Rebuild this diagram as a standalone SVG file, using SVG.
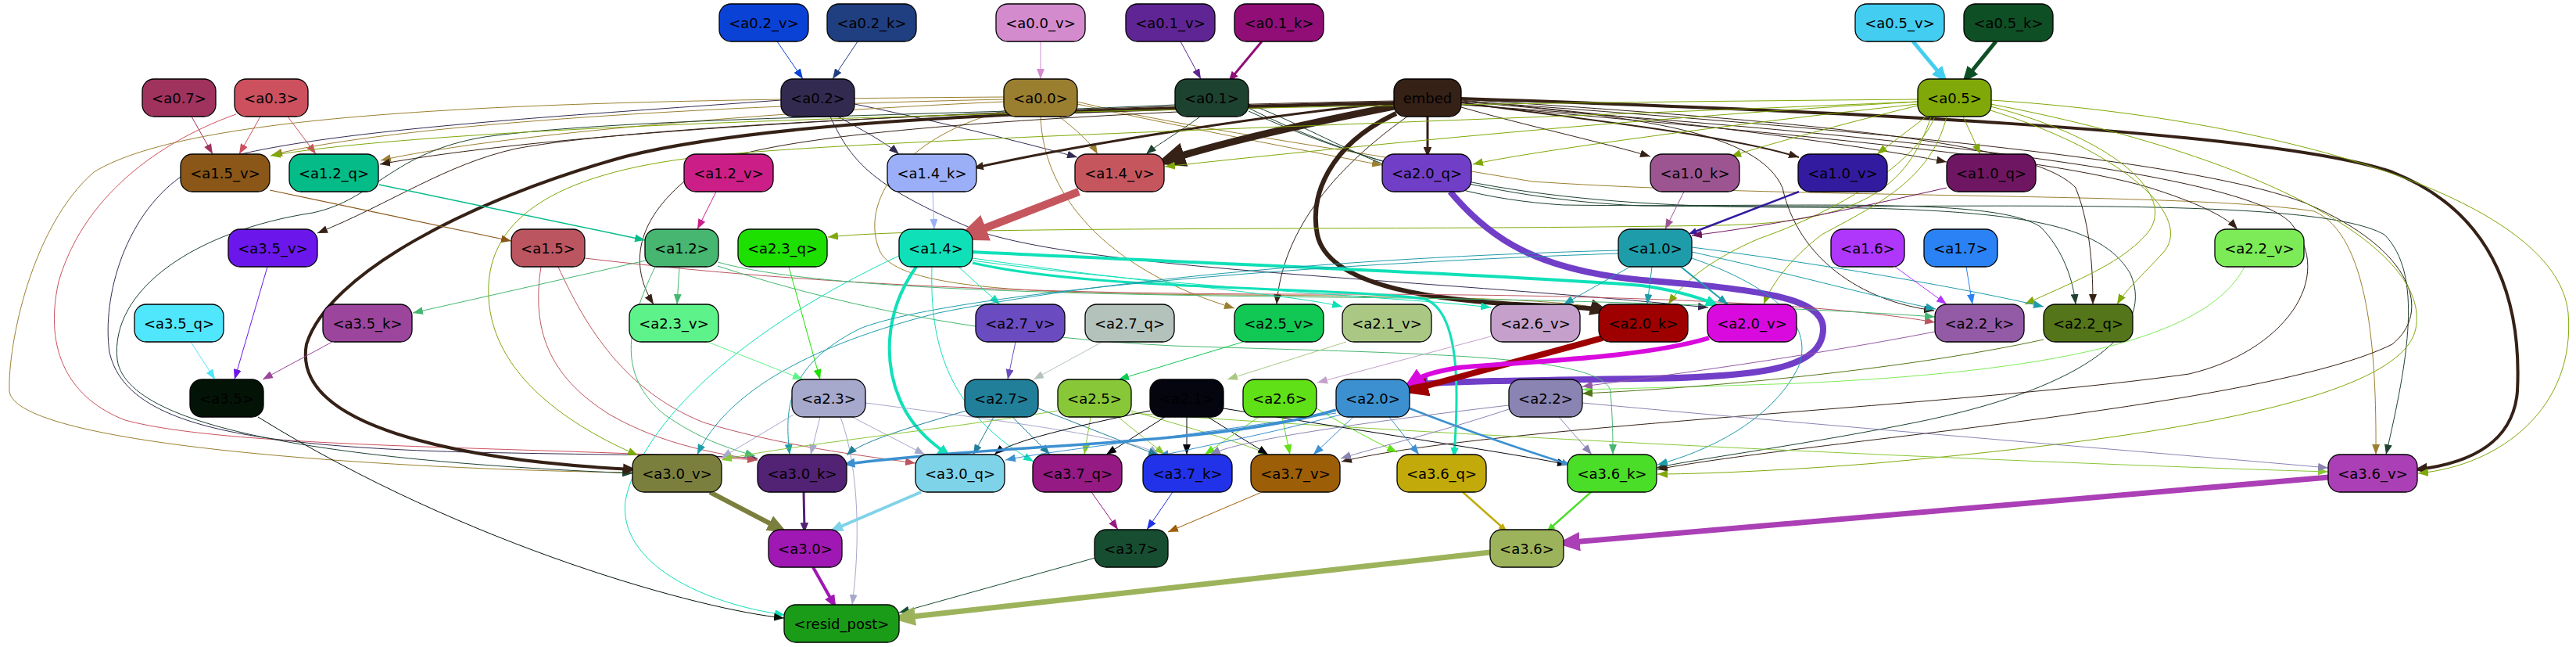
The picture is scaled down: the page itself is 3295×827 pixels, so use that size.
<svg xmlns="http://www.w3.org/2000/svg" width="3295" height="827" viewBox="0 0 3295 827">
<style>
.n rect{stroke:#000;stroke-width:1.3}
.n text{font-family:"DejaVu Sans",sans-serif;font-size:18px;text-anchor:middle;fill:#000}
#edges path{fill:none}
</style>
<defs>
<marker id="t_a0_2v" markerWidth="13" markerHeight="10" refX="13" refY="5" orient="auto" markerUnits="userSpaceOnUse"><path d="M0,0L13,5L0,10z" fill="#0b42d6"/></marker>
<marker id="t_a0_2k" markerWidth="13" markerHeight="10" refX="13" refY="5" orient="auto" markerUnits="userSpaceOnUse"><path d="M0,0L13,5L0,10z" fill="#203f80"/></marker>
<marker id="t_a0_0v" markerWidth="13" markerHeight="10" refX="13" refY="5" orient="auto" markerUnits="userSpaceOnUse"><path d="M0,0L13,5L0,10z" fill="#d48bce"/></marker>
<marker id="t_a0_1v" markerWidth="13" markerHeight="10" refX="13" refY="5" orient="auto" markerUnits="userSpaceOnUse"><path d="M0,0L13,5L0,10z" fill="#5f2594"/></marker>
<marker id="t_a0_7" markerWidth="13" markerHeight="10" refX="13" refY="5" orient="auto" markerUnits="userSpaceOnUse"><path d="M0,0L13,5L0,10z" fill="#a0325e"/></marker>
<marker id="t_a0_3" markerWidth="13" markerHeight="10" refX="13" refY="5" orient="auto" markerUnits="userSpaceOnUse"><path d="M0,0L13,5L0,10z" fill="#cc505e"/></marker>
<marker id="t_a0_2" markerWidth="13" markerHeight="10" refX="13" refY="5" orient="auto" markerUnits="userSpaceOnUse"><path d="M0,0L13,5L0,10z" fill="#332a50"/></marker>
<marker id="t_a0_0" markerWidth="13" markerHeight="10" refX="13" refY="5" orient="auto" markerUnits="userSpaceOnUse"><path d="M0,0L13,5L0,10z" fill="#9b7f30"/></marker>
<marker id="t_a0_1" markerWidth="13" markerHeight="10" refX="13" refY="5" orient="auto" markerUnits="userSpaceOnUse"><path d="M0,0L13,5L0,10z" fill="#1e4230"/></marker>
<marker id="t_embed" markerWidth="13" markerHeight="10" refX="13" refY="5" orient="auto" markerUnits="userSpaceOnUse"><path d="M0,0L13,5L0,10z" fill="#352116"/></marker>
<marker id="t_a0_5" markerWidth="13" markerHeight="10" refX="13" refY="5" orient="auto" markerUnits="userSpaceOnUse"><path d="M0,0L13,5L0,10z" fill="#7fa808"/></marker>
<marker id="t_a1_4k" markerWidth="13" markerHeight="10" refX="13" refY="5" orient="auto" markerUnits="userSpaceOnUse"><path d="M0,0L13,5L0,10z" fill="#9aaff8"/></marker>
<marker id="t_a1_2v" markerWidth="13" markerHeight="10" refX="13" refY="5" orient="auto" markerUnits="userSpaceOnUse"><path d="M0,0L13,5L0,10z" fill="#cb1f87"/></marker>
<marker id="t_a1_2q" markerWidth="13" markerHeight="10" refX="13" refY="5" orient="auto" markerUnits="userSpaceOnUse"><path d="M0,0L13,5L0,10z" fill="#05bb88"/></marker>
<marker id="t_a1_5v" markerWidth="13" markerHeight="10" refX="13" refY="5" orient="auto" markerUnits="userSpaceOnUse"><path d="M0,0L13,5L0,10z" fill="#8a5718"/></marker>
<marker id="t_a1_0k" markerWidth="13" markerHeight="10" refX="13" refY="5" orient="auto" markerUnits="userSpaceOnUse"><path d="M0,0L13,5L0,10z" fill="#9c5590"/></marker>
<marker id="t_a1_0q" markerWidth="13" markerHeight="10" refX="13" refY="5" orient="auto" markerUnits="userSpaceOnUse"><path d="M0,0L13,5L0,10z" fill="#6f1662"/></marker>
<marker id="t_a3_5v" markerWidth="13" markerHeight="10" refX="13" refY="5" orient="auto" markerUnits="userSpaceOnUse"><path d="M0,0L13,5L0,10z" fill="#6b17ec"/></marker>
<marker id="t_a1_5" markerWidth="13" markerHeight="10" refX="13" refY="5" orient="auto" markerUnits="userSpaceOnUse"><path d="M0,0L13,5L0,10z" fill="#bb5560"/></marker>
<marker id="t_a1_2" markerWidth="13" markerHeight="10" refX="13" refY="5" orient="auto" markerUnits="userSpaceOnUse"><path d="M0,0L13,5L0,10z" fill="#46b670"/></marker>
<marker id="t_a2_3q" markerWidth="13" markerHeight="10" refX="13" refY="5" orient="auto" markerUnits="userSpaceOnUse"><path d="M0,0L13,5L0,10z" fill="#1de000"/></marker>
<marker id="t_a1_4" markerWidth="13" markerHeight="10" refX="13" refY="5" orient="auto" markerUnits="userSpaceOnUse"><path d="M0,0L13,5L0,10z" fill="#10e0b8"/></marker>
<marker id="t_a1_0" markerWidth="13" markerHeight="10" refX="13" refY="5" orient="auto" markerUnits="userSpaceOnUse"><path d="M0,0L13,5L0,10z" fill="#1e9caa"/></marker>
<marker id="t_a1_6" markerWidth="13" markerHeight="10" refX="13" refY="5" orient="auto" markerUnits="userSpaceOnUse"><path d="M0,0L13,5L0,10z" fill="#ae37fb"/></marker>
<marker id="t_a1_7" markerWidth="13" markerHeight="10" refX="13" refY="5" orient="auto" markerUnits="userSpaceOnUse"><path d="M0,0L13,5L0,10z" fill="#2a82f4"/></marker>
<marker id="t_a2_2v" markerWidth="13" markerHeight="10" refX="13" refY="5" orient="auto" markerUnits="userSpaceOnUse"><path d="M0,0L13,5L0,10z" fill="#7deb57"/></marker>
<marker id="t_a3_5q" markerWidth="13" markerHeight="10" refX="13" refY="5" orient="auto" markerUnits="userSpaceOnUse"><path d="M0,0L13,5L0,10z" fill="#50e6fc"/></marker>
<marker id="t_a3_5k" markerWidth="13" markerHeight="10" refX="13" refY="5" orient="auto" markerUnits="userSpaceOnUse"><path d="M0,0L13,5L0,10z" fill="#9c459c"/></marker>
<marker id="t_a2_3v" markerWidth="13" markerHeight="10" refX="13" refY="5" orient="auto" markerUnits="userSpaceOnUse"><path d="M0,0L13,5L0,10z" fill="#5ef38a"/></marker>
<marker id="t_a2_7v" markerWidth="13" markerHeight="10" refX="13" refY="5" orient="auto" markerUnits="userSpaceOnUse"><path d="M0,0L13,5L0,10z" fill="#6a4bc0"/></marker>
<marker id="t_a2_7q" markerWidth="13" markerHeight="10" refX="13" refY="5" orient="auto" markerUnits="userSpaceOnUse"><path d="M0,0L13,5L0,10z" fill="#b4c2bc"/></marker>
<marker id="t_a2_5v" markerWidth="13" markerHeight="10" refX="13" refY="5" orient="auto" markerUnits="userSpaceOnUse"><path d="M0,0L13,5L0,10z" fill="#10c853"/></marker>
<marker id="t_a2_1v" markerWidth="13" markerHeight="10" refX="13" refY="5" orient="auto" markerUnits="userSpaceOnUse"><path d="M0,0L13,5L0,10z" fill="#aac883"/></marker>
<marker id="t_a2_6v" markerWidth="13" markerHeight="10" refX="13" refY="5" orient="auto" markerUnits="userSpaceOnUse"><path d="M0,0L13,5L0,10z" fill="#c4a0cb"/></marker>
<marker id="t_a2_2k" markerWidth="13" markerHeight="10" refX="13" refY="5" orient="auto" markerUnits="userSpaceOnUse"><path d="M0,0L13,5L0,10z" fill="#935aa5"/></marker>
<marker id="t_a2_2q" markerWidth="13" markerHeight="10" refX="13" refY="5" orient="auto" markerUnits="userSpaceOnUse"><path d="M0,0L13,5L0,10z" fill="#547519"/></marker>
<marker id="t_a3_5" markerWidth="13" markerHeight="10" refX="13" refY="5" orient="auto" markerUnits="userSpaceOnUse"><path d="M0,0L13,5L0,10z" fill="#031406"/></marker>
<marker id="t_a2_3" markerWidth="13" markerHeight="10" refX="13" refY="5" orient="auto" markerUnits="userSpaceOnUse"><path d="M0,0L13,5L0,10z" fill="#a6a8cc"/></marker>
<marker id="t_a2_7" markerWidth="13" markerHeight="10" refX="13" refY="5" orient="auto" markerUnits="userSpaceOnUse"><path d="M0,0L13,5L0,10z" fill="#217f9a"/></marker>
<marker id="t_a2_5" markerWidth="13" markerHeight="10" refX="13" refY="5" orient="auto" markerUnits="userSpaceOnUse"><path d="M0,0L13,5L0,10z" fill="#88c838"/></marker>
<marker id="t_a2_1" markerWidth="13" markerHeight="10" refX="13" refY="5" orient="auto" markerUnits="userSpaceOnUse"><path d="M0,0L13,5L0,10z" fill="#050510"/></marker>
<marker id="t_a2_6" markerWidth="13" markerHeight="10" refX="13" refY="5" orient="auto" markerUnits="userSpaceOnUse"><path d="M0,0L13,5L0,10z" fill="#60e016"/></marker>
<marker id="t_a2_0" markerWidth="13" markerHeight="10" refX="13" refY="5" orient="auto" markerUnits="userSpaceOnUse"><path d="M0,0L13,5L0,10z" fill="#3c90d0"/></marker>
<marker id="t_a2_2" markerWidth="13" markerHeight="10" refX="13" refY="5" orient="auto" markerUnits="userSpaceOnUse"><path d="M0,0L13,5L0,10z" fill="#8a84b2"/></marker>
<marker id="t_a3_7q" markerWidth="13" markerHeight="10" refX="13" refY="5" orient="auto" markerUnits="userSpaceOnUse"><path d="M0,0L13,5L0,10z" fill="#951a84"/></marker>
<marker id="t_a3_7k" markerWidth="13" markerHeight="10" refX="13" refY="5" orient="auto" markerUnits="userSpaceOnUse"><path d="M0,0L13,5L0,10z" fill="#2232e8"/></marker>
<marker id="t_a3_7v" markerWidth="13" markerHeight="10" refX="13" refY="5" orient="auto" markerUnits="userSpaceOnUse"><path d="M0,0L13,5L0,10z" fill="#9d5e08"/></marker>
<marker id="t_a3_7" markerWidth="13" markerHeight="10" refX="13" refY="5" orient="auto" markerUnits="userSpaceOnUse"><path d="M0,0L13,5L0,10z" fill="#174e32"/></marker>
<marker id="k_a0_1k" viewBox="0 0 12 10" markerWidth="4.2" markerHeight="3.5" refX="8.5" refY="5" orient="auto"><path d="M0,0L12,5L0,10z" fill="#900e76"/></marker>
<marker id="k_a0_5v" viewBox="0 0 12 10" markerWidth="4.2" markerHeight="3.5" refX="8.5" refY="5" orient="auto"><path d="M0,0L12,5L0,10z" fill="#43cdf0"/></marker>
<marker id="k_a0_5k" viewBox="0 0 12 10" markerWidth="4.2" markerHeight="3.5" refX="8.5" refY="5" orient="auto"><path d="M0,0L12,5L0,10z" fill="#0f4f25"/></marker>
<marker id="k_embed" viewBox="0 0 12 10" markerWidth="4.2" markerHeight="3.5" refX="8.5" refY="5" orient="auto"><path d="M0,0L12,5L0,10z" fill="#352116"/></marker>
<marker id="k_a1_4v" viewBox="0 0 12 10" markerWidth="4.2" markerHeight="3.5" refX="8.5" refY="5" orient="auto"><path d="M0,0L12,5L0,10z" fill="#c6565e"/></marker>
<marker id="k_a1_0v" viewBox="0 0 12 10" markerWidth="4.2" markerHeight="3.5" refX="8.5" refY="5" orient="auto"><path d="M0,0L12,5L0,10z" fill="#331ba0"/></marker>
<marker id="k_a2_0q" viewBox="0 0 12 10" markerWidth="4.2" markerHeight="3.5" refX="8.5" refY="5" orient="auto"><path d="M0,0L12,5L0,10z" fill="#713ec8"/></marker>
<marker id="k_a1_4" viewBox="0 0 12 10" markerWidth="4.2" markerHeight="3.5" refX="8.5" refY="5" orient="auto"><path d="M0,0L12,5L0,10z" fill="#10e0b8"/></marker>
<marker id="k_a2_0k" viewBox="0 0 12 10" markerWidth="4.2" markerHeight="3.5" refX="8.5" refY="5" orient="auto"><path d="M0,0L12,5L0,10z" fill="#9e0000"/></marker>
<marker id="k_a2_0v" viewBox="0 0 12 10" markerWidth="4.2" markerHeight="3.5" refX="8.5" refY="5" orient="auto"><path d="M0,0L12,5L0,10z" fill="#d90ade"/></marker>
<marker id="k_a2_0" viewBox="0 0 12 10" markerWidth="4.2" markerHeight="3.5" refX="8.5" refY="5" orient="auto"><path d="M0,0L12,5L0,10z" fill="#3c90d0"/></marker>
<marker id="k_a3_0v" viewBox="0 0 12 10" markerWidth="4.2" markerHeight="3.5" refX="8.5" refY="5" orient="auto"><path d="M0,0L12,5L0,10z" fill="#7b7f3d"/></marker>
<marker id="k_a3_0k" viewBox="0 0 12 10" markerWidth="4.2" markerHeight="3.5" refX="8.5" refY="5" orient="auto"><path d="M0,0L12,5L0,10z" fill="#522275"/></marker>
<marker id="k_a3_0q" viewBox="0 0 12 10" markerWidth="4.2" markerHeight="3.5" refX="8.5" refY="5" orient="auto"><path d="M0,0L12,5L0,10z" fill="#7fd3e8"/></marker>
<marker id="k_a3_6q" viewBox="0 0 12 10" markerWidth="4.2" markerHeight="3.5" refX="8.5" refY="5" orient="auto"><path d="M0,0L12,5L0,10z" fill="#c2aa0a"/></marker>
<marker id="k_a3_6k" viewBox="0 0 12 10" markerWidth="4.2" markerHeight="3.5" refX="8.5" refY="5" orient="auto"><path d="M0,0L12,5L0,10z" fill="#4ade28"/></marker>
<marker id="k_a3_6v" viewBox="0 0 12 10" markerWidth="4.2" markerHeight="3.5" refX="8.5" refY="5" orient="auto"><path d="M0,0L12,5L0,10z" fill="#ab3fb5"/></marker>
<marker id="k_a3_0" viewBox="0 0 12 10" markerWidth="4.2" markerHeight="3.5" refX="8.5" refY="5" orient="auto"><path d="M0,0L12,5L0,10z" fill="#a018b3"/></marker>
<marker id="k_a3_6" viewBox="0 0 12 10" markerWidth="4.2" markerHeight="3.5" refX="8.5" refY="5" orient="auto"><path d="M0,0L12,5L0,10z" fill="#9db35b"/></marker>
</defs>
<rect width="3295" height="827" fill="#fff"/>
<g id="edges">
<path d="M994,53 L1027,101" stroke="#0b42d6" marker-end="url(#t_a0_2v)"/>
<path d="M1097,53 L1065,101" stroke="#203f80" marker-end="url(#t_a0_2k)"/>
<path d="M1331,53 L1331,101" stroke="#d48bce" marker-end="url(#t_a0_0v)"/>
<path d="M1510,53 L1536,101" stroke="#5f2594" marker-end="url(#t_a0_1v)"/>
<path d="M1614,53 L1574,101" stroke="#900e76" stroke-width="3" marker-end="url(#k_a0_1k)"/>
<path d="M2447,53 L2487,101" stroke="#43cdf0" stroke-width="5" marker-end="url(#k_a0_5v)"/>
<path d="M2553,53 L2514,101" stroke="#0f4f25" stroke-width="5" marker-end="url(#k_a0_5k)"/>
<path d="M245,149 L272,197" stroke="#a0325e" marker-end="url(#t_a0_7)"/>
<path d="M333,149 L306,197" stroke="#cc505e" marker-end="url(#t_a0_3)"/>
<path d="M368,149 L404,197" stroke="#cc505e" marker-end="url(#t_a0_3)"/>
<path d="M302,146 C220,175 110,240 75,360 C55,450 90,510 160,537 C300,575 700,570 969,588" stroke="#cc505e" marker-end="url(#t_a0_3)"/>
<path d="M1072,149 C1100,165 1130,180 1150,197" stroke="#332a50" marker-end="url(#t_a0_2)"/>
<path d="M1093,133 C1200,155 1320,185 1378,201" stroke="#332a50" marker-end="url(#t_a0_2)"/>
<path d="M999,128 C700,150 330,170 240,220 C160,270 130,380 140,450 C160,540 300,570 600,578 C800,582 930,582 969,586" stroke="#332a50" marker-end="url(#t_a0_2)"/>
<path d="M1062,149 C1090,210 1120,240 1250,295 C1400,345 1800,355 2185,393" stroke="#332a50" marker-end="url(#t_a0_2)"/>
<path d="M1284,127 C900,135 500,160 348,198" stroke="#9b7f30" marker-end="url(#t_a0_0)"/>
<path d="M1284,130 C950,145 620,175 487,205" stroke="#9b7f30" marker-end="url(#t_a0_0)"/>
<path d="M1355,149 C1375,165 1395,182 1404,197" stroke="#9b7f30" marker-end="url(#t_a0_0)"/>
<path d="M1378,133 C1500,160 1680,195 1768,211" stroke="#9b7f30" marker-end="url(#t_a0_0)"/>
<path d="M1331,149 C1335,260 1430,350 1579,394" stroke="#9b7f30" marker-end="url(#t_a0_0)"/>
<path d="M1290,140 C1150,175 1100,260 1125,320 C1150,380 1400,375 1700,378 C1900,380 2010,385 2050,395" stroke="#9b7f30" marker-end="url(#t_a0_0)"/>
<path d="M1284,124 C700,128 250,140 120,220 C40,290 10,440 12,500 C20,570 500,600 809,604" stroke="#9b7f30" marker-end="url(#t_a0_0)"/>
<path d="M1378,130 C1500,160 1650,180 1960,232 C2300,255 2800,245 2960,270 C3030,300 3040,450 3039,581" stroke="#9b7f30" marker-end="url(#t_a0_0)"/>
<path d="M1535,149 C1510,168 1480,185 1466,197" stroke="#1e4230" marker-end="url(#t_a0_1)"/>
<path d="M1503,134 C1200,148 800,150 620,175 C500,195 480,255 400,272 C250,295 140,370 150,460 C165,560 500,592 809,605" stroke="#1e4230" marker-end="url(#t_a0_1)"/>
<path d="M1597,133 C1700,170 1800,250 2000,262 C2300,266 2550,250 2610,290 C2640,320 2652,360 2655,389" stroke="#1e4230" marker-end="url(#t_a0_1)"/>
<path d="M1597,138 C1720,200 1900,255 2100,263 C2500,268 2960,248 3050,300 C3100,350 3080,460 3052,581" stroke="#1e4230" marker-end="url(#t_a0_1)"/>
<path d="M1597,142 C1800,235 2000,265 2300,265 C2600,266 2690,290 2725,350 C2760,430 2650,500 2450,540 C2300,570 2160,588 2119,598" stroke="#1e4230" marker-end="url(#t_a0_1)"/>
<path d="M1783,131 C1600,150 1380,185 1249,214" stroke="#352116" stroke-width="3" marker-end="url(#k_embed)"/>
<path d="M1783,136 C1660,160 1560,183 1489,206" stroke="#352116" stroke-width="9" marker-end="url(#k_embed)"/>
<path d="M1826,149 L1826,197" stroke="#352116" stroke-width="3" marker-end="url(#k_embed)"/>
<path d="M1869,137 C1950,160 2050,182 2111,200" stroke="#352116" marker-end="url(#t_embed)"/>
<path d="M1869,131 C2000,150 2200,170 2301,201" stroke="#352116" stroke-width="2" marker-end="url(#t_embed)"/>
<path d="M1869,128 C2100,150 2350,180 2490,207" stroke="#352116" marker-end="url(#t_embed)"/>
<path d="M1786,145 C1700,185 1675,250 1685,300 C1700,370 1850,385 1960,390 C2010,392 2040,394 2052,397" stroke="#352116" stroke-width="6" marker-end="url(#k_embed)"/>
<path d="M1869,133 C2200,165 2600,195 2750,240 C2820,262 2850,280 2862,293" stroke="#352116" marker-end="url(#t_embed)"/>
<path d="M1869,130 C2100,148 2250,170 2280,240 C2300,330 2380,385 2474,397" stroke="#352116" marker-end="url(#t_embed)"/>
<path d="M1869,127 C2300,155 2600,180 2655,240 C2675,290 2677,350 2677,389" stroke="#352116" marker-end="url(#t_embed)"/>
<path d="M1869,126 C2300,140 2900,165 3060,220 C3200,275 3225,400 3220,500 C3215,565 3160,592 3093,600" stroke="#352116" stroke-width="4" marker-end="url(#k_embed)"/>
<path d="M1783,132 C1400,140 1000,150 800,200 C600,255 420,350 392,440 C370,560 650,592 809,600" stroke="#352116" stroke-width="4" marker-end="url(#k_embed)"/>
<path d="M1783,129 C1200,140 700,170 486,210" stroke="#352116" marker-end="url(#t_embed)"/>
<path d="M1783,130 C1300,140 820,160 660,190 C570,210 500,260 406,298" stroke="#352116" marker-end="url(#t_embed)"/>
<path d="M1783,131 C1300,150 960,170 890,220 C810,280 805,340 836,389" stroke="#352116" marker-end="url(#t_embed)"/>
<path d="M1800,149 C1700,220 1640,300 1633,389" stroke="#352116" marker-end="url(#t_embed)"/>
<path d="M1869,129 C2300,160 2800,200 2950,260 C3090,320 3110,400 3060,440 C2900,520 2300,565 2120,600" stroke="#352116" marker-end="url(#t_embed)"/>
<path d="M1869,134 C2400,170 2870,220 2930,285 C2990,355 2920,450 2800,478 C2500,520 1900,545 1716,590" stroke="#352116" marker-end="url(#t_embed)"/>
<path d="M2453,135 C2350,160 2260,185 2214,200" stroke="#7fa808" marker-end="url(#t_a0_5)"/>
<path d="M2464,149 L2401,197" stroke="#7fa808" marker-end="url(#t_a0_5)"/>
<path d="M2511,149 L2533,197" stroke="#7fa808" marker-end="url(#t_a0_5)"/>
<path d="M2453,130 C2100,150 1700,190 1490,213" stroke="#7fa808" marker-end="url(#t_a0_5)"/>
<path d="M2453,133 C2200,160 1950,195 1884,210" stroke="#7fa808" marker-end="url(#t_a0_5)"/>
<path d="M2470,149 C2440,240 2380,285 2200,288 C1800,295 1200,288 1059,303" stroke="#7fa808" marker-end="url(#t_a0_5)"/>
<path d="M2475,149 C2450,210 2350,270 2250,305 C2180,335 2150,365 2134,389" stroke="#7fa808" marker-end="url(#t_a0_5)"/>
<path d="M2490,149 C2470,230 2400,262 2330,300 C2285,335 2264,368 2256,389" stroke="#7fa808" marker-end="url(#t_a0_5)"/>
<path d="M2546,136 C2700,175 2790,250 2745,300 C2710,340 2640,365 2590,389" stroke="#7fa808" marker-end="url(#t_a0_5)"/>
<path d="M2546,141 C2720,195 2810,280 2765,325 C2740,352 2718,372 2708,389" stroke="#7fa808" marker-end="url(#t_a0_5)"/>
<path d="M2546,128 C2900,150 3270,250 3285,400 C3295,520 3200,595 3093,605" stroke="#7fa808" marker-end="url(#t_a0_5)"/>
<path d="M2546,133 C2900,200 3110,320 3090,420 C3070,520 2700,565 2400,592 C2250,604 2150,606 2120,606" stroke="#7fa808" marker-end="url(#t_a0_5)"/>
<path d="M2453,130 C1800,158 1100,178 900,200 C700,222 620,285 625,380 C630,480 730,545 816,582" stroke="#7fa808" marker-end="url(#t_a0_5)"/>
<path d="M2453,127 C1500,135 600,155 346,199" stroke="#7fa808" marker-end="url(#t_a0_5)"/>
<path d="M1380,245 L1233,302" stroke="#c6565e" stroke-width="10" marker-end="url(#k_a1_4v)"/>
<path d="M1193,245 L1195,293" stroke="#9aaff8" marker-end="url(#t_a1_4k)"/>
<path d="M916,245 L892,293" stroke="#cb1f87" marker-end="url(#t_a1_2v)"/>
<path d="M485,236 L825,307" stroke="#05bb88" stroke-width="1.5" marker-end="url(#t_a1_2q)"/>
<path d="M345,243 L654,308" stroke="#8a5718" stroke-width="1.2" marker-end="url(#t_a1_5v)"/>
<path d="M2154,245 L2130,293" stroke="#9c5590" marker-end="url(#t_a1_0k)"/>
<path d="M2301,245 L2163,298" stroke="#331ba0" stroke-width="2.5" marker-end="url(#k_a1_0v)"/>
<path d="M2490,240 C2380,265 2260,290 2164,301" stroke="#6f1662" marker-end="url(#t_a1_0q)"/>
<path d="M1855,245 C1905,305 1965,345 2100,358 C2250,370 2332,380 2332,420 C2332,472 2250,482 2100,484 C1950,486 1860,487 1803,492" stroke="#713ec8" stroke-width="8" marker-end="url(#k_a2_0q)"/>
<path d="M342,341 L300,485" stroke="#6b17ec" marker-end="url(#t_a3_5v)"/>
<path d="M714,341 C750,420 800,500 900,540 C1000,570 1100,582 1171,592" stroke="#bb5560" marker-end="url(#t_a1_5)"/>
<path d="M692,341 C680,420 700,480 780,530 C850,570 920,580 969,588" stroke="#bb5560" marker-end="url(#t_a1_5)"/>
<path d="M748,330 C1000,360 1300,377 1700,376 C2100,376 2350,390 2475,412" stroke="#bb5560" marker-end="url(#t_a1_5)"/>
<path d="M869,341 L866,389" stroke="#46b670" marker-end="url(#t_a1_2)"/>
<path d="M826,333 L528,400" stroke="#46b670" marker-end="url(#t_a1_2)"/>
<path d="M918,335 C1050,372 1400,377 1800,381 C2100,385 2350,396 2475,405" stroke="#46b670" marker-end="url(#t_a1_2)"/>
<path d="M838,341 C800,420 790,480 850,530 C900,565 940,575 966,583" stroke="#46b670" marker-end="url(#t_a1_2)"/>
<path d="M918,340 C1100,400 1300,432 1500,442 C1800,452 2050,452 2060,500 C2063,540 2063,560 2063,581" stroke="#46b670" marker-end="url(#t_a1_2)"/>
<path d="M1009,341 L1049,485" stroke="#1de000" marker-end="url(#t_a2_3q)"/>
<path d="M1226,341 L1279,389" stroke="#10e0b8" marker-end="url(#t_a1_4)"/>
<path d="M1172,341 C1130,400 1128,470 1158,525 C1175,555 1200,572 1212,581" stroke="#10e0b8" stroke-width="4" marker-end="url(#k_a1_4)"/>
<path d="M1244,322 C1500,335 1900,350 2100,365 C2150,372 2180,383 2194,389" stroke="#10e0b8" stroke-width="4" marker-end="url(#k_a1_4)"/>
<path d="M1244,336 C1400,372 1700,366 1822,382 C1868,398 1866,500 1860,581" stroke="#10e0b8" stroke-width="3" marker-end="url(#k_a1_4)"/>
<path d="M1244,330 C1450,360 1650,376 1717,392" stroke="#10e0b8" marker-end="url(#t_a1_4)"/>
<path d="M1244,333 C1500,368 1800,380 1907,393" stroke="#10e0b8" marker-end="url(#t_a1_4)"/>
<path d="M1152,326 C950,420 820,540 800,640 C790,720 900,772 1004,786" stroke="#10e0b8" marker-end="url(#t_a1_4)"/>
<path d="M1192,341 C1190,420 1200,520 1322,590" stroke="#10e0b8" marker-end="url(#t_a1_4)"/>
<path d="M2085,341 L2000,389" stroke="#1e9caa" marker-end="url(#t_a1_0)"/>
<path d="M2113,341 L2107,389" stroke="#1e9caa" marker-end="url(#t_a1_0)"/>
<path d="M2150,341 L2210,389" stroke="#1e9caa" stroke-width="2" marker-end="url(#t_a1_0)"/>
<path d="M2164,322 C2300,352 2400,380 2476,395" stroke="#1e9caa" marker-end="url(#t_a1_0)"/>
<path d="M2164,316 C2350,340 2520,370 2614,392" stroke="#1e9caa" marker-end="url(#t_a1_0)"/>
<path d="M2164,330 C2280,370 2320,420 2300,470 C2265,540 2180,578 2120,594" stroke="#1e9caa" marker-end="url(#t_a1_0)"/>
<path d="M2070,320 C1700,330 1400,360 1200,400 C1000,450 920,520 892,581" stroke="#1e9caa" marker-end="url(#t_a1_0)"/>
<path d="M2070,324 C1600,340 1200,380 1100,420 C1000,470 1005,530 1010,581" stroke="#1e9caa" marker-end="url(#t_a1_0)"/>
<path d="M2424,341 L2490,389" stroke="#ae37fb" marker-end="url(#t_a1_6)"/>
<path d="M2515,341 L2523,389" stroke="#2a82f4" marker-end="url(#t_a1_7)"/>
<path d="M2871,341 C2820,440 2600,476 2300,490 C2150,495 2060,497 2024,498" stroke="#7deb57" marker-end="url(#t_a2_2v)"/>
<path d="M244,437 L275,485" stroke="#50e6fc" marker-end="url(#t_a3_5q)"/>
<path d="M425,437 L336,485" stroke="#9c459c" marker-end="url(#t_a3_5k)"/>
<path d="M905,437 L1027,485" stroke="#5ef38a" marker-end="url(#t_a2_3v)"/>
<path d="M1299,437 L1289,485" stroke="#6a4bc0" marker-end="url(#t_a2_7v)"/>
<path d="M1410,437 L1322,485" stroke="#b4c2bc" marker-end="url(#t_a2_7q)"/>
<path d="M1590,437 L1431,485" stroke="#10c853" marker-end="url(#t_a2_5v)"/>
<path d="M1722,437 L1570,485" stroke="#aac883" marker-end="url(#t_a2_1v)"/>
<path d="M1907,430 L1685,489" stroke="#c4a0cb" marker-end="url(#t_a2_6v)"/>
<path d="M2050,432 L1803,499" stroke="#9e0000" stroke-width="8" marker-end="url(#k_a2_0k)"/>
<path d="M2186,432 C2100,458 1950,462 1865,470 C1835,475 1818,480 1803,490" stroke="#d90ade" stroke-width="6" marker-end="url(#k_a2_0v)"/>
<path d="M2475,424 C2300,458 2100,484 2024,494" stroke="#935aa5" marker-end="url(#t_a2_2k)"/>
<path d="M2614,434 C2450,470 2200,495 2024,503" stroke="#547519" marker-end="url(#t_a2_2q)"/>
<path d="M330,533 C600,700 900,780 1003,790" stroke="#031406" marker-end="url(#t_a3_5)"/>
<path d="M1015,530 L923,585" stroke="#a6a8cc" marker-end="url(#t_a2_3)"/>
<path d="M1049,533 L1037,581" stroke="#a6a8cc" marker-end="url(#t_a2_3)"/>
<path d="M1090,533 L1183,581" stroke="#a6a8cc" marker-end="url(#t_a2_3)"/>
<path d="M1075,533 C1100,600 1100,700 1090,773" stroke="#a6a8cc" marker-end="url(#t_a2_3)"/>
<path d="M1107,515 C1300,540 1450,560 1482,581" stroke="#a6a8cc" marker-end="url(#t_a2_3)"/>
<path d="M1236,525 C1150,550 1100,566 1083,582" stroke="#217f9a" marker-end="url(#t_a2_7)"/>
<path d="M1271,533 L1245,581" stroke="#217f9a" marker-end="url(#t_a2_7)"/>
<path d="M1295,533 L1343,581" stroke="#217f9a" marker-end="url(#t_a2_7)"/>
<path d="M1328,522 C1400,550 1450,570 1482,582" stroke="#217f9a" marker-end="url(#t_a2_7)"/>
<path d="M1395,533 L1387,581" stroke="#88c838" marker-end="url(#t_a2_5)"/>
<path d="M1430,533 L1490,581" stroke="#88c838" marker-end="url(#t_a2_5)"/>
<path d="M1447,525 C1550,555 1600,570 1622,581" stroke="#88c838" marker-end="url(#t_a2_5)"/>
<path d="M1353,525 C1200,550 1000,570 923,588" stroke="#88c838" marker-end="url(#t_a2_5)"/>
<path d="M1447,528 C1900,560 2600,592 2978,603" stroke="#88c838" marker-end="url(#t_a2_5)"/>
<path d="M1471,525 C1350,550 1290,566 1272,581" stroke="#050510" marker-end="url(#t_a2_1)"/>
<path d="M1490,533 L1415,581" stroke="#050510" marker-end="url(#t_a2_1)"/>
<path d="M1518,533 L1518,581" stroke="#050510" marker-end="url(#t_a2_1)"/>
<path d="M1545,533 L1622,581" stroke="#050510" marker-end="url(#t_a2_1)"/>
<path d="M1565,522 C1800,560 1950,582 2005,594" stroke="#050510" marker-end="url(#t_a2_1)"/>
<path d="M1610,533 L1541,581" stroke="#60e016" marker-end="url(#t_a2_6)"/>
<path d="M1640,533 L1650,581" stroke="#60e016" marker-end="url(#t_a2_6)"/>
<path d="M1684,522 C1730,550 1770,570 1787,578" stroke="#60e016" marker-end="url(#t_a2_6)"/>
<path d="M1709,524 C1550,570 1300,566 1083,593" stroke="#3c90d0" stroke-width="3.5" marker-end="url(#k_a2_0)"/>
<path d="M1715,530 C1620,555 1540,570 1482,583" stroke="#3c90d0" marker-end="url(#t_a2_0)"/>
<path d="M1731,533 L1680,581" stroke="#3c90d0" marker-end="url(#t_a2_0)"/>
<path d="M1777,533 L1815,581" stroke="#3c90d0" marker-end="url(#t_a2_0)"/>
<path d="M1803,522 C1900,560 1980,585 2005,593" stroke="#3c90d0" stroke-width="2.5" marker-end="url(#k_a2_0)"/>
<path d="M1709,528 C1500,560 1350,575 1286,588" stroke="#3c90d0" marker-end="url(#t_a2_0)"/>
<path d="M1994,533 L2036,581" stroke="#8a84b2" marker-end="url(#t_a2_2)"/>
<path d="M1930,523 C1850,550 1760,572 1715,586" stroke="#8a84b2" marker-end="url(#t_a2_2)"/>
<path d="M1930,518 C1700,545 1580,565 1548,581" stroke="#8a84b2" marker-end="url(#t_a2_2)"/>
<path d="M2024,515 C2400,550 2800,582 2978,598" stroke="#8a84b2" marker-end="url(#t_a2_2)"/>
<path d="M908,629 L1000,677" stroke="#7b7f3d" stroke-width="6" marker-end="url(#k_a3_0v)"/>
<path d="M1028,629 L1029,677" stroke="#522275" stroke-width="3" marker-end="url(#k_a3_0k)"/>
<path d="M1178,629 L1066,677" stroke="#7fd3e8" stroke-width="4" marker-end="url(#k_a3_0q)"/>
<path d="M1396,629 L1430,677" stroke="#951a84" marker-end="url(#t_a3_7q)"/>
<path d="M1500,629 L1467,677" stroke="#2232e8" marker-end="url(#t_a3_7k)"/>
<path d="M1614,629 L1494,680" stroke="#9d5e08" marker-end="url(#t_a3_7v)"/>
<path d="M1871,629 L1925,677" stroke="#c2aa0a" stroke-width="2.5" marker-end="url(#k_a3_6q)"/>
<path d="M2035,629 L1981,677" stroke="#4ade28" stroke-width="2.5" marker-end="url(#k_a3_6k)"/>
<path d="M2979,610 L2000,694" stroke="#ab3fb5" stroke-width="7" marker-end="url(#k_a3_6v)"/>
<path d="M1040,725 L1067,773" stroke="#a018b3" stroke-width="4" marker-end="url(#k_a3_0)"/>
<path d="M1401,713 L1150,783" stroke="#174e32" marker-end="url(#t_a3_7)"/>
<path d="M1906,706 L1150,790" stroke="#9db35b" stroke-width="7" marker-end="url(#k_a3_6)"/>
</g>
<g id="nodes">
<g id="n_a0_2_v" class="n"><rect x="920" y="5" width="114" height="48" rx="15" fill="#0b42d6"/><text x="977" y="35.5">&lt;a0.2_v&gt;</text></g>
<g id="n_a0_2_k" class="n"><rect x="1058" y="5" width="114" height="48" rx="15" fill="#203f80"/><text x="1115" y="35.5">&lt;a0.2_k&gt;</text></g>
<g id="n_a0_0_v" class="n"><rect x="1274" y="5" width="114" height="48" rx="15" fill="#d48bce"/><text x="1331" y="35.5">&lt;a0.0_v&gt;</text></g>
<g id="n_a0_1_v" class="n"><rect x="1440" y="5" width="114" height="48" rx="15" fill="#5f2594"/><text x="1497" y="35.5">&lt;a0.1_v&gt;</text></g>
<g id="n_a0_1_k" class="n"><rect x="1579" y="5" width="114" height="48" rx="15" fill="#900e76"/><text x="1636" y="35.5">&lt;a0.1_k&gt;</text></g>
<g id="n_a0_5_v" class="n"><rect x="2373" y="5" width="114" height="48" rx="15" fill="#43cdf0"/><text x="2430" y="35.5">&lt;a0.5_v&gt;</text></g>
<g id="n_a0_5_k" class="n"><rect x="2512" y="5" width="114" height="48" rx="15" fill="#0f4f25"/><text x="2569" y="35.5">&lt;a0.5_k&gt;</text></g>
<g id="n_a0_7" class="n"><rect x="182" y="101" width="94" height="48" rx="15" fill="#a0325e"/><text x="229" y="131.5">&lt;a0.7&gt;</text></g>
<g id="n_a0_3" class="n"><rect x="300" y="101" width="94" height="48" rx="15" fill="#cc505e"/><text x="347" y="131.5">&lt;a0.3&gt;</text></g>
<g id="n_a0_2" class="n"><rect x="999" y="101" width="94" height="48" rx="15" fill="#332a50"/><text x="1046" y="131.5">&lt;a0.2&gt;</text></g>
<g id="n_a0_0" class="n"><rect x="1284" y="101" width="94" height="48" rx="15" fill="#9b7f30"/><text x="1331" y="131.5">&lt;a0.0&gt;</text></g>
<g id="n_a0_1" class="n"><rect x="1503" y="101" width="94" height="48" rx="15" fill="#1e4230"/><text x="1550" y="131.5">&lt;a0.1&gt;</text></g>
<g id="n_embed" class="n"><rect x="1783" y="101" width="86" height="48" rx="15" fill="#352116"/><text x="1826" y="131.5">embed</text></g>
<g id="n_a0_5" class="n"><rect x="2453" y="101" width="94" height="48" rx="15" fill="#7fa808"/><text x="2500" y="131.5">&lt;a0.5&gt;</text></g>
<g id="n_a1_5_v" class="n"><rect x="231" y="197" width="114" height="48" rx="15" fill="#8a5718"/><text x="288" y="227.5">&lt;a1.5_v&gt;</text></g>
<g id="n_a1_2_q" class="n"><rect x="370" y="197" width="114" height="48" rx="15" fill="#05bb88"/><text x="427" y="227.5">&lt;a1.2_q&gt;</text></g>
<g id="n_a1_2_v" class="n"><rect x="875" y="197" width="114" height="48" rx="15" fill="#cb1f87"/><text x="932" y="227.5">&lt;a1.2_v&gt;</text></g>
<g id="n_a1_4_k" class="n"><rect x="1135" y="197" width="114" height="48" rx="15" fill="#9aaff8"/><text x="1192" y="227.5">&lt;a1.4_k&gt;</text></g>
<g id="n_a1_4_v" class="n"><rect x="1375" y="197" width="114" height="48" rx="15" fill="#c6565e"/><text x="1432" y="227.5">&lt;a1.4_v&gt;</text></g>
<g id="n_a2_0_q" class="n"><rect x="1768" y="197" width="114" height="48" rx="15" fill="#713ec8"/><text x="1825" y="227.5">&lt;a2.0_q&gt;</text></g>
<g id="n_a1_0_k" class="n"><rect x="2111" y="197" width="114" height="48" rx="15" fill="#9c5590"/><text x="2168" y="227.5">&lt;a1.0_k&gt;</text></g>
<g id="n_a1_0_v" class="n"><rect x="2300" y="197" width="114" height="48" rx="15" fill="#331ba0"/><text x="2357" y="227.5">&lt;a1.0_v&gt;</text></g>
<g id="n_a1_0_q" class="n"><rect x="2490" y="197" width="114" height="48" rx="15" fill="#6f1662"/><text x="2547" y="227.5">&lt;a1.0_q&gt;</text></g>
<g id="n_a3_5_v" class="n"><rect x="292" y="293" width="114" height="48" rx="15" fill="#6b17ec"/><text x="349" y="323.5">&lt;a3.5_v&gt;</text></g>
<g id="n_a1_5" class="n"><rect x="654" y="293" width="94" height="48" rx="15" fill="#bb5560"/><text x="701" y="323.5">&lt;a1.5&gt;</text></g>
<g id="n_a1_2" class="n"><rect x="825" y="293" width="94" height="48" rx="15" fill="#46b670"/><text x="872" y="323.5">&lt;a1.2&gt;</text></g>
<g id="n_a2_3_q" class="n"><rect x="944" y="293" width="114" height="48" rx="15" fill="#1de000"/><text x="1001" y="323.5">&lt;a2.3_q&gt;</text></g>
<g id="n_a1_4" class="n"><rect x="1150" y="293" width="94" height="48" rx="15" fill="#10e0b8"/><text x="1197" y="323.5">&lt;a1.4&gt;</text></g>
<g id="n_a1_0" class="n"><rect x="2070" y="293" width="94" height="48" rx="15" fill="#1e9caa"/><text x="2117" y="323.5">&lt;a1.0&gt;</text></g>
<g id="n_a1_6" class="n"><rect x="2342" y="293" width="94" height="48" rx="15" fill="#ae37fb"/><text x="2389" y="323.5">&lt;a1.6&gt;</text></g>
<g id="n_a1_7" class="n"><rect x="2461" y="293" width="94" height="48" rx="15" fill="#2a82f4"/><text x="2508" y="323.5">&lt;a1.7&gt;</text></g>
<g id="n_a2_2_v" class="n"><rect x="2833" y="293" width="114" height="48" rx="15" fill="#7deb57"/><text x="2890" y="323.5">&lt;a2.2_v&gt;</text></g>
<g id="n_a3_5_q" class="n"><rect x="172" y="389" width="114" height="48" rx="15" fill="#50e6fc"/><text x="229" y="419.5">&lt;a3.5_q&gt;</text></g>
<g id="n_a3_5_k" class="n"><rect x="413" y="389" width="114" height="48" rx="15" fill="#9c459c"/><text x="470" y="419.5">&lt;a3.5_k&gt;</text></g>
<g id="n_a2_3_v" class="n"><rect x="805" y="389" width="114" height="48" rx="15" fill="#5ef38a"/><text x="862" y="419.5">&lt;a2.3_v&gt;</text></g>
<g id="n_a2_7_v" class="n"><rect x="1248" y="389" width="114" height="48" rx="15" fill="#6a4bc0"/><text x="1305" y="419.5">&lt;a2.7_v&gt;</text></g>
<g id="n_a2_7_q" class="n"><rect x="1388" y="389" width="114" height="48" rx="15" fill="#b4c2bc"/><text x="1445" y="419.5">&lt;a2.7_q&gt;</text></g>
<g id="n_a2_5_v" class="n"><rect x="1579" y="389" width="114" height="48" rx="15" fill="#10c853"/><text x="1636" y="419.5">&lt;a2.5_v&gt;</text></g>
<g id="n_a2_1_v" class="n"><rect x="1717" y="389" width="114" height="48" rx="15" fill="#aac883"/><text x="1774" y="419.5">&lt;a2.1_v&gt;</text></g>
<g id="n_a2_6_v" class="n"><rect x="1907" y="389" width="114" height="48" rx="15" fill="#c4a0cb"/><text x="1964" y="419.5">&lt;a2.6_v&gt;</text></g>
<g id="n_a2_0_k" class="n"><rect x="2045" y="389" width="114" height="48" rx="15" fill="#9e0000"/><text x="2102" y="419.5">&lt;a2.0_k&gt;</text></g>
<g id="n_a2_0_v" class="n"><rect x="2184" y="389" width="114" height="48" rx="15" fill="#d90ade"/><text x="2241" y="419.5">&lt;a2.0_v&gt;</text></g>
<g id="n_a2_2_k" class="n"><rect x="2475" y="389" width="114" height="48" rx="15" fill="#935aa5"/><text x="2532" y="419.5">&lt;a2.2_k&gt;</text></g>
<g id="n_a2_2_q" class="n"><rect x="2614" y="389" width="114" height="48" rx="15" fill="#547519"/><text x="2671" y="419.5">&lt;a2.2_q&gt;</text></g>
<g id="n_a3_5" class="n"><rect x="243" y="485" width="94" height="48" rx="15" fill="#031406"/><text x="290" y="515.5">&lt;a3.5&gt;</text></g>
<g id="n_a2_3" class="n"><rect x="1013" y="485" width="94" height="48" rx="15" fill="#a6a8cc"/><text x="1060" y="515.5">&lt;a2.3&gt;</text></g>
<g id="n_a2_7" class="n"><rect x="1234" y="485" width="94" height="48" rx="15" fill="#217f9a"/><text x="1281" y="515.5">&lt;a2.7&gt;</text></g>
<g id="n_a2_5" class="n"><rect x="1353" y="485" width="94" height="48" rx="15" fill="#88c838"/><text x="1400" y="515.5">&lt;a2.5&gt;</text></g>
<g id="n_a2_1" class="n"><rect x="1471" y="485" width="94" height="48" rx="15" fill="#050510"/><text x="1518" y="515.5">&lt;a2.1&gt;</text></g>
<g id="n_a2_6" class="n"><rect x="1590" y="485" width="94" height="48" rx="15" fill="#60e016"/><text x="1637" y="515.5">&lt;a2.6&gt;</text></g>
<g id="n_a2_0" class="n"><rect x="1709" y="485" width="94" height="48" rx="15" fill="#3c90d0"/><text x="1756" y="515.5">&lt;a2.0&gt;</text></g>
<g id="n_a2_2" class="n"><rect x="1930" y="485" width="94" height="48" rx="15" fill="#8a84b2"/><text x="1977" y="515.5">&lt;a2.2&gt;</text></g>
<g id="n_a3_0_v" class="n"><rect x="809" y="581" width="114" height="48" rx="15" fill="#7b7f3d"/><text x="866" y="611.5">&lt;a3.0_v&gt;</text></g>
<g id="n_a3_0_k" class="n"><rect x="969" y="581" width="114" height="48" rx="15" fill="#522275"/><text x="1026" y="611.5">&lt;a3.0_k&gt;</text></g>
<g id="n_a3_0_q" class="n"><rect x="1171" y="581" width="114" height="48" rx="15" fill="#7fd3e8"/><text x="1228" y="611.5">&lt;a3.0_q&gt;</text></g>
<g id="n_a3_7_q" class="n"><rect x="1321" y="581" width="114" height="48" rx="15" fill="#951a84"/><text x="1378" y="611.5">&lt;a3.7_q&gt;</text></g>
<g id="n_a3_7_k" class="n"><rect x="1462" y="581" width="114" height="48" rx="15" fill="#2232e8"/><text x="1519" y="611.5">&lt;a3.7_k&gt;</text></g>
<g id="n_a3_7_v" class="n"><rect x="1600" y="581" width="114" height="48" rx="15" fill="#9d5e08"/><text x="1657" y="611.5">&lt;a3.7_v&gt;</text></g>
<g id="n_a3_6_q" class="n"><rect x="1787" y="581" width="114" height="48" rx="15" fill="#c2aa0a"/><text x="1844" y="611.5">&lt;a3.6_q&gt;</text></g>
<g id="n_a3_6_k" class="n"><rect x="2005" y="581" width="114" height="48" rx="15" fill="#4ade28"/><text x="2062" y="611.5">&lt;a3.6_k&gt;</text></g>
<g id="n_a3_6_v" class="n"><rect x="2978" y="581" width="114" height="48" rx="15" fill="#ab3fb5"/><text x="3035" y="611.5">&lt;a3.6_v&gt;</text></g>
<g id="n_a3_0" class="n"><rect x="983" y="677" width="94" height="48" rx="15" fill="#a018b3"/><text x="1030" y="707.5">&lt;a3.0&gt;</text></g>
<g id="n_a3_7" class="n"><rect x="1400" y="677" width="94" height="48" rx="15" fill="#174e32"/><text x="1447" y="707.5">&lt;a3.7&gt;</text></g>
<g id="n_a3_6" class="n"><rect x="1906" y="677" width="94" height="48" rx="15" fill="#9db35b"/><text x="1953" y="707.5">&lt;a3.6&gt;</text></g>
<g id="n_resid_post" class="n"><rect x="1003" y="773" width="147" height="48" rx="15" fill="#1a9c18"/><text x="1076.5" y="803.5">&lt;resid_post&gt;</text></g>
</g>
</svg>
